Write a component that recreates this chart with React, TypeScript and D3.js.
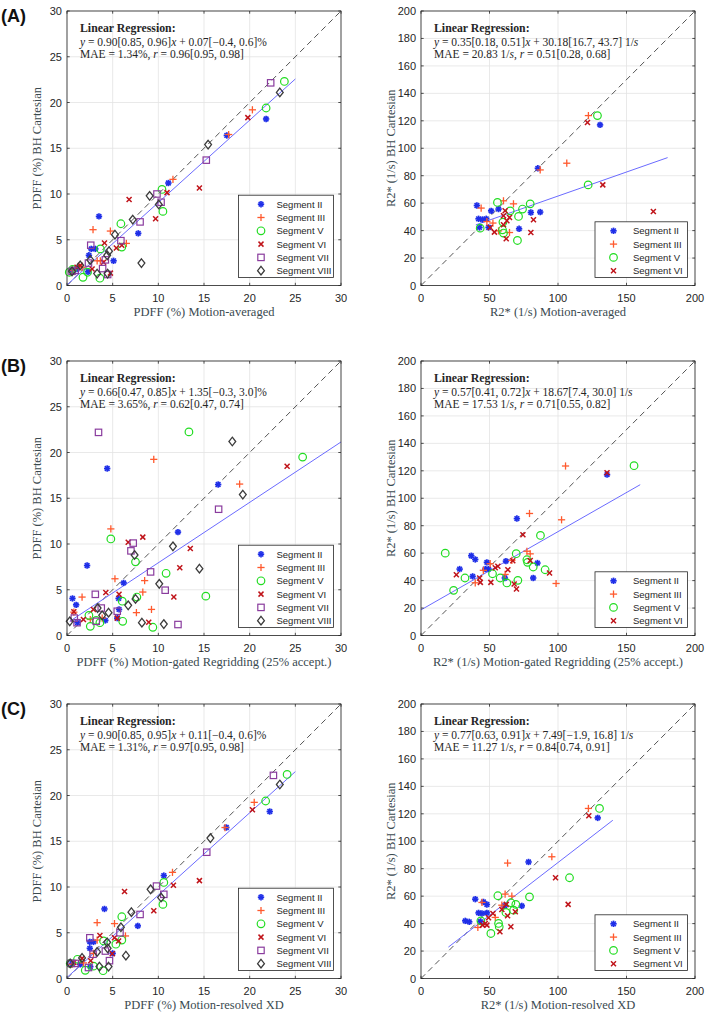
import React from 'react';
import * as d3 from 'd3';

type Pt = [number, number];

const segmentNames = ['Segment II', 'Segment III', 'Segment V', 'Segment VI', 'Segment VII', 'Segment VIII'];
const segmentMarkers = ['asterisk', 'plus', 'circle', 'cross', 'square', 'diamond'];
const segmentColors = ['#1f2fe8', '#ff5a2e', '#22dd22', '#c0141a', '#8a3c9e', '#3c3c3c'];

// (A) PDFF motion-averaged vs BH Cartesian
const avgPdffII: Pt[] = [[3.5, 7.55], [2.65, 4.0], [3.1, 4.0], [2.4, 3.3], [5.1, 2.7], [7.8, 5.7], [11.1, 11.2], [17.5, 16.4], [21.8, 18.2], [2.3, 1.5], [1.1, 1.8], [0.45, 1.65]];
const avgPdffIII: Pt[] = [[2.85, 6.1], [4.75, 5.95], [6.5, 4.6], [3.3, 2.7], [3.65, 2.7], [11.6, 11.6], [17.7, 16.5], [20.3, 19.2], [0.55, 1.65], [1.65, 2.0]];
const avgPdffV: Pt[] = [[23.8, 22.3], [21.8, 19.4], [10.4, 10.5], [10.5, 8.1], [5.9, 6.75], [6.0, 4.2], [3.65, 4.0], [3.6, 0.8], [1.75, 0.9], [2.25, 1.45], [0.25, 1.45], [0.6, 1.75]];
const avgPdffVI: Pt[] = [[6.8, 9.4], [9.7, 7.3], [10.95, 10.15], [14.5, 10.65], [19.8, 18.35], [4.1, 4.65], [5.4, 4.1], [6.0, 4.4], [2.75, 1.8], [4.0, 2.55], [4.75, 1.35], [1.1, 2.0], [1.45, 2.2]];
const avgPdffVII: Pt[] = [[22.3, 22.15], [15.25, 13.7], [10.3, 9.1], [9.85, 10.0], [8.0, 6.95], [5.9, 4.9], [2.6, 4.4], [4.2, 2.8], [3.9, 1.85], [4.45, 1.2], [2.35, 2.45], [0.9, 1.65], [0.55, 1.55]];
const avgPdffVIII: Pt[] = [[23.3, 21.1], [15.45, 15.4], [9.05, 9.8], [10.05, 8.85], [7.2, 7.2], [5.25, 5.55], [4.6, 3.75], [8.15, 2.45], [4.4, 3.3], [2.55, 2.8], [1.45, 2.2], [3.3, 1.3], [4.45, 1.3], [0.55, 1.55]];

// (A) R2* motion-averaged vs BH Cartesian
const avgR2II: Pt[] = [[40.8, 58.3], [51.2, 54.4], [56.6, 55.7], [42, 48.6], [44.9, 48.1], [47.6, 48.6], [42.7, 42.3], [49.3, 42.3], [71.6, 41.3], [80.2, 53.2], [87, 53.5], [85.3, 85.4], [130.7, 117]];
const avgR2III: Pt[] = [[43.9, 56.4], [60.2, 61.7], [67.5, 59.5], [52.5, 45.5], [48.1, 46.6], [64.6, 38.6], [122.2, 123.8], [106.4, 89.1], [87, 84.2], [56.6, 39.8]];
const avgR2V: Pt[] = [[128.8, 123.8], [122, 73.3], [55.8, 60.5], [79.7, 59.5], [74.1, 55.7], [65.1, 54.4], [71.2, 50.3], [59.8, 46.2], [59.5, 40.6], [60.2, 38.2], [70.4, 32.8], [43.2, 41.8]];
const avgR2VI: Pt[] = [[169.6, 53.9], [132.7, 73.3], [121.5, 118.7], [61.4, 54.4], [60.2, 50.8], [82.1, 47.9], [80.2, 38.6], [62.2, 34], [53.6, 38.9], [50.5, 42.3], [60.2, 44.2], [62.7, 47.2], [64.6, 49.6]];

// (B) PDFF motion-gated regridding vs BH Cartesian
const gatedPdffII: Pt[] = [[4.4, 18.25], [2.2, 7.65], [12.15, 11.3], [16.55, 16.5], [6.2, 5.75], [0.6, 4.05], [1.0, 3.35], [5.65, 4.05], [5.7, 2.85], [5.5, 1.9], [4.2, 1.65], [1.15, 1.4]];
const gatedPdffIII: Pt[] = [[9.5, 19.25], [4.8, 11.65], [18.9, 16.55], [5.25, 6.2], [8.5, 6.0], [8.3, 4.75], [7.6, 2.5], [9.25, 2.85], [1.65, 4.2], [0.75, 2.55], [2.55, 1.75], [3.85, 1.9]];
const gatedPdffV: Pt[] = [[13.35, 22.25], [25.8, 19.5], [4.8, 10.55], [7.5, 8.05], [10.85, 6.8], [15.2, 4.3], [6.05, 3.75], [7.65, 4.2], [2.4, 2.2], [2.55, 1.0], [3.2, 1.65], [3.6, 1.4], [6.1, 1.55], [9.4, 0.9]];
const gatedPdffVI: Pt[] = [[24.1, 18.5], [6.7, 10.2], [8.3, 10.75], [13.5, 9.5], [12.35, 7.4], [11.7, 4.2], [4.25, 4.7], [5.7, 4.5], [2.9, 2.85], [1.8, 1.75], [0.75, 2.6], [8.95, 1.45], [5.5, 1.9]];
const gatedPdffVII: Pt[] = [[3.45, 22.2], [16.6, 13.8], [7.25, 10.1], [7.0, 9.25], [9.15, 6.95], [10.75, 4.95], [3.1, 4.5], [3.75, 3.0], [5.5, 2.65], [12.15, 1.2], [1.1, 1.4], [0.8, 1.9], [3.2, 1.55]];
const gatedPdffVIII: Pt[] = [[18.1, 21.2], [19.25, 15.4], [11.6, 9.75], [14.5, 7.3], [10.1, 5.65], [7.4, 8.8], [7.5, 4.0], [6.7, 3.3], [3.35, 3.0], [4.55, 2.5], [3.85, 2.2], [8.2, 1.4], [10.6, 1.25], [0.3, 1.55]];

// (B) R2* motion-gated regridding vs BH Cartesian
const gatedR2II: Pt[] = [[28.2, 48.4], [36.7, 58.1], [39.6, 55.4], [37.7, 43.1], [48.1, 53.3], [46.9, 48.4], [49.3, 48.4], [62, 54.2], [70, 85.2], [85, 52.8], [81.9, 41.9], [61.2, 41.9], [135.8, 117.2]];
const gatedR2III: Pt[] = [[105.5, 123.5], [79.2, 88.9], [102.6, 84.3], [77.3, 61.4], [79.7, 59.5], [98.6, 37.9], [66.3, 54.7], [61.4, 44.5], [39.6, 38.4], [50.5, 52.3], [45.5, 47.5]];
const gatedR2V: Pt[] = [[17.7, 60], [23.8, 32.9], [32.1, 41.9], [52.2, 45], [57.8, 41.9], [62.7, 38.3], [69.5, 59.6], [70.7, 40.2], [77.3, 55.2], [77.8, 53.3], [81.9, 49.9], [87.2, 72.9], [90.6, 47.9], [155.5, 123.7]];
const gatedR2VI: Pt[] = [[25.8, 44.3], [42.8, 41.9], [43.3, 38.7], [51, 38.7], [54.2, 49.4], [56.1, 50.4], [63.4, 47.9], [67, 54.5], [74.4, 73.4], [68, 37.5], [69.7, 33.9], [79.7, 54.7], [93.8, 45.5], [135.8, 118.6]];

// (C) PDFF motion-resolved XD vs BH Cartesian
const xdPdffII: Pt[] = [[4.1, 7.6], [2.5, 4.0], [2.9, 4.0], [2.5, 3.3], [5.0, 2.75], [7.75, 5.75], [10.6, 11.25], [17.45, 16.5], [22.2, 18.25], [2.55, 1.3], [1.45, 1.55], [0.55, 1.65]];
const xdPdffIII: Pt[] = [[3.3, 6.1], [5.2, 6.0], [6.4, 4.65], [3.3, 4.2], [11.55, 11.6], [17.3, 16.5], [20.5, 19.25], [2.9, 2.75], [0.55, 1.55], [1.8, 1.7]];
const xdPdffV: Pt[] = [[24.1, 22.3], [21.75, 19.4], [10.6, 10.5], [10.5, 8.1], [6.0, 6.75], [6.0, 4.2], [5.35, 3.75], [4.0, 4.1], [3.95, 0.85], [2.0, 0.9], [1.15, 2.1], [0.35, 1.65], [2.9, 1.35]];
const xdPdffVI: Pt[] = [[6.3, 9.5], [9.5, 7.4], [11.65, 10.2], [14.5, 10.7], [20.3, 18.45], [3.6, 4.7], [5.2, 4.45], [5.65, 4.1], [4.95, 2.7], [2.6, 1.95], [1.65, 2.2], [0.75, 1.75]];
const xdPdffVII: Pt[] = [[22.6, 22.2], [15.3, 13.8], [10.6, 9.2], [9.8, 10.1], [8.0, 7.0], [5.8, 5.0], [2.5, 4.45], [4.2, 3.0], [4.65, 1.95], [2.35, 1.2], [2.85, 2.65], [0.9, 1.65], [0.45, 1.65]];
const xdPdffVIII: Pt[] = [[23.3, 21.2], [15.7, 15.35], [9.15, 9.75], [10.3, 8.85], [7.05, 7.25], [5.9, 5.6], [4.4, 3.95], [4.45, 3.3], [6.45, 2.5], [3.3, 2.9], [1.65, 2.25], [3.55, 1.3], [4.55, 1.3], [0.35, 1.65]];

// (C) R2* motion-resolved XD vs BH Cartesian
const xdR2II: Pt[] = [[39.6, 57.8], [45.6, 55.8], [48.1, 53.9], [42, 47.8], [44.5, 47.4], [48.1, 47.8], [32.3, 42], [35.2, 41.3], [43.3, 41.4], [61, 53], [73.6, 52.9], [78.5, 84.9], [129, 117]];
const xdR2III: Pt[] = [[122.2, 123.9], [95.5, 88.7], [63.2, 84.1], [61.4, 61.5], [66.3, 60], [44.5, 55.4], [41.5, 37.2], [54.2, 44.5], [59, 53.4]];
const xdR2V: Pt[] = [[130.3, 123.9], [108.4, 73.4], [56.1, 60.3], [79.2, 59.5], [65.6, 55.2], [69.2, 54], [62, 48.1], [67.6, 49.8], [56.6, 40.1], [57.1, 37.7], [51, 32.8], [43.7, 42]];
const xdR2VI: Pt[] = [[107.4, 54], [98.2, 73.4], [122.5, 118.6], [65.6, 37.7], [57.6, 34], [52.5, 47.4], [59, 50.3], [62.2, 54], [63.2, 45.7], [68.8, 48.6], [49.3, 44.2], [46.9, 40.1], [44.9, 38.9], [48.1, 38.9]];

const panelLetters = ['(A)', '(B)', '(C)'];
const xLabels = [
  'PDFF (%) Motion-averaged', 'R2* (1/s) Motion-averaged',
  'PDFF (%) Motion-gated Regridding (25% accept.)', 'R2* (1/s) Motion-gated Regridding (25% accept.)',
  'PDFF (%) Motion-resolved XD', 'R2* (1/s) Motion-resolved XD',
];
const yLabels = ['PDFF (%) BH Cartesian', 'R2* (1/s) BH Cartesian'];
const eqLines = [
  '_y_ = 0.90[0.85, 0.96]_x_ + 0.07[\u22120.4, 0.6]%',
  '_y_ = 0.35[0.18, 0.51]_x_ + 30.18[16.7, 43.7] 1/_s_',
  '_y_ = 0.66[0.47, 0.85]_x_ + 1.35[\u22120.3, 3.0]%',
  '_y_ = 0.57[0.41, 0.72]_x_ + 18.67[7.4, 30.0] 1/_s_',
  '_y_ = 0.90[0.85, 0.95]_x_ + 0.11[\u22120.4, 0.6]%',
  '_y_ = 0.77[0.63, 0.91]_x_ + 7.49[\u22121.9, 16.8] 1/_s_',
];
const maeLines = [
  'MAE = 1.34%, _r_ = 0.96[0.95, 0.98]',
  'MAE = 20.83 1/_s_, _r_ = 0.51[0.28, 0.68]',
  'MAE = 3.65%, _r_ = 0.62[0.47, 0.74]',
  'MAE = 17.53 1/_s_, _r_ = 0.71[0.55, 0.82]',
  'MAE = 1.31%, _r_ = 0.97[0.95, 0.98]',
  'MAE = 11.27 1/_s_, _r_ = 0.84[0.74, 0.91]',
];
const fitSlopes = [0.90, 0.35, 0.66, 0.57, 0.90, 0.77];
const fitIntercepts = [0.07, 30.18, 1.35, 18.67, 0.11, 7.49];
const fitRanges: Pt[] = [[0, 25], [40, 180], [0.3, 30], [0, 160], [0, 25], [20, 140]];

const panelSeries: Pt[][][] = [
  [avgPdffII, avgPdffIII, avgPdffV, avgPdffVI, avgPdffVII, avgPdffVIII],
  [avgR2II, avgR2III, avgR2V, avgR2VI],
  [gatedPdffII, gatedPdffIII, gatedPdffV, gatedPdffVI, gatedPdffVII, gatedPdffVIII],
  [gatedR2II, gatedR2III, gatedR2V, gatedR2VI],
  [xdPdffII, xdPdffIII, xdPdffV, xdPdffVI, xdPdffVII, xdPdffVIII],
  [xdR2II, xdR2III, xdR2V, xdR2VI],
];

const SERIF = '"Liberation Serif", "Times New Roman", serif';
const SANS = '"Liberation Sans", Arial, sans-serif';
const AXIS = '#262626';
const LABEL = '#3a4a50';

const Marker = ({ kind, x, y, color }: { kind: string; x: number; y: number; color: string }) => {
  if (kind === 'asterisk') {
    const r = 3.2, d = r * 0.72;
    return (
      <g stroke={color} strokeWidth={1.7}>
        <line x1={x - r} y1={y} x2={x + r} y2={y} />
        <line x1={x} y1={y - r} x2={x} y2={y + r} />
        <line x1={x - d} y1={y - d} x2={x + d} y2={y + d} />
        <line x1={x - d} y1={y + d} x2={x + d} y2={y - d} />
      </g>
    );
  }
  if (kind === 'plus') {
    const r = 3.6;
    return (
      <g stroke={color} strokeWidth={1.3}>
        <line x1={x - r} y1={y} x2={x + r} y2={y} />
        <line x1={x} y1={y - r} x2={x} y2={y + r} />
      </g>
    );
  }
  if (kind === 'cross') {
    const r = 2.5;
    return (
      <g stroke={color} strokeWidth={1.5}>
        <line x1={x - r} y1={y - r} x2={x + r} y2={y + r} />
        <line x1={x - r} y1={y + r} x2={x + r} y2={y - r} />
      </g>
    );
  }
  if (kind === 'circle') return <circle cx={x} cy={y} r={3.8} fill="none" stroke={color} strokeWidth={1.2} />;
  if (kind === 'square') return <rect x={x - 3.2} y={y - 3.2} width={6.4} height={6.4} fill="none" stroke={color} strokeWidth={1.2} />;
  return <path d={`M${x},${y - 4.3}L${x + 3.4},${y}L${x},${y + 4.3}L${x - 3.4},${y}Z`} fill="none" stroke={color} strokeWidth={1.3} />;
};

const MathText = ({ x, y, text }: { x: number; y: number; text: string }) => (
  <text x={x} y={y} fontFamily={SERIF} fontSize={11.5} fill={AXIS}>
    {text.split('_').map((s, i) => (
      <tspan key={i} fontStyle={i % 2 ? 'italic' : 'normal'}>{s}</tspan>
    ))}
  </text>
);

const Panel = ({ idx, x0, y0 }: { idx: number; x0: number; y0: number }) => {
  const isPdff = idx % 2 === 0;
  const w = 274, h = 274.5;
  const xMax = isPdff ? 30 : 200;
  const yMax = isPdff ? 30 : 200;
  const x = d3.scaleLinear().domain([0, xMax]).range([x0, x0 + w]);
  const y = d3.scaleLinear().domain([0, yMax]).range([y0 + h, y0]);
  const xTicks = d3.range(0, xMax + 0.1, isPdff ? 5 : 50);
  const yTicks = d3.range(0, yMax + 0.1, isPdff ? 5 : 20);
  const series = panelSeries[idx];
  const [f0, f1] = fitRanges[idx];
  const fit = (v: number) => fitSlopes[idx] * v + fitIntercepts[idx];
  const line = d3.line<Pt>().x(d => x(d[0])).y(d => y(d[1]));

  const n = series.length;
  const legW = isPdff ? 95 : 92.5;
  const legH = n * 13.3 + 2.5;
  const legX = x0 + w - 7.5 - legW;
  const legY = y0 + h - 8 - legH;
  const mOff = isPdff ? 22.5 : 18.5;

  return (
    <g>
      {xTicks.map(t => (
        <line key={'gx' + t} x1={x(t)} x2={x(t)} y1={y0} y2={y0 + h} stroke="#e3e3e3" strokeWidth={0.8} />
      ))}
      {yTicks.map(t => (
        <line key={'gy' + t} x1={x0} x2={x0 + w} y1={y(t)} y2={y(t)} stroke="#e3e3e3" strokeWidth={0.8} />
      ))}
      <path d={line([[0, 0], [xMax, yMax]]) || ''} stroke="#555" strokeWidth={1} strokeDasharray="6,4" fill="none" />
      <path d={line([[f0, fit(f0)], [f1, fit(f1)]]) || ''} stroke="#6b6bff" strokeWidth={1} fill="none" />
      {series.map((pts, s) =>
        pts.map((p, i) => (
          <Marker key={s + '-' + i} kind={segmentMarkers[s]} x={x(p[0])} y={y(p[1])} color={segmentColors[s]} />
        ))
      )}
      <rect x={x0} y={y0} width={w} height={h} fill="none" stroke={AXIS} strokeWidth={0.8} />
      {xTicks.map(t => (
        <g key={'xt' + t}>
          <line x1={x(t)} x2={x(t)} y1={y0 + h} y2={y0 + h - 2.7} stroke={AXIS} strokeWidth={0.8} />
          <line x1={x(t)} x2={x(t)} y1={y0} y2={y0 + 2.7} stroke={AXIS} strokeWidth={0.8} />
          <text x={x(t)} y={y0 + h + 16} textAnchor="middle" fontFamily={SANS} fontSize={11} fill={AXIS}>{t}</text>
        </g>
      ))}
      {yTicks.map(t => (
        <g key={'yt' + t}>
          <line x1={x0} x2={x0 + 2.7} y1={y(t)} y2={y(t)} stroke={AXIS} strokeWidth={0.8} />
          <line x1={x0 + w} x2={x0 + w - 2.7} y1={y(t)} y2={y(t)} stroke={AXIS} strokeWidth={0.8} />
          <text x={x0 - 5} y={y(t) + 4} textAnchor="end" fontFamily={SANS} fontSize={11} fill={AXIS}>{t}</text>
        </g>
      ))}
      <text x={x0 + 13} y={y0 + 20.5} fontFamily={SERIF} fontSize={11.8} fontWeight="bold" fill={AXIS}>Linear Regression:</text>
      <MathText x={x0 + 13} y={y0 + 34.5} text={eqLines[idx]} />
      <MathText x={x0 + 13} y={y0 + 47} text={maeLines[idx]} />
      <rect x={legX} y={legY} width={legW} height={legH} fill="#fff" stroke={AXIS} strokeWidth={0.8} />
      {series.map((_, s) => {
        const cy = legY + 9 + s * 13.3;
        return (
          <g key={'lg' + s}>
            <Marker kind={segmentMarkers[s]} x={legX + mOff} y={cy} color={segmentColors[s]} />
            <text x={legX + 38} y={cy + 3.5} fontFamily={SANS} fontSize={9.5} fill={AXIS}>{segmentNames[s]}</text>
          </g>
        );
      })}
      <text x={x0 + w / 2} y={y0 + h + 30.5} textAnchor="middle" fontFamily={SERIF} fontSize={12.5} fill={LABEL}>{xLabels[idx]}</text>
      <text transform={`translate(${x0 - 26},${y0 + h / 2}) rotate(-90)`} textAnchor="middle" fontFamily={SERIF} fontSize={12.5} fill={LABEL}>
        {yLabels[idx % 2]}
      </text>
    </g>
  );
};

const rowTops = [11, 361, 704];
const colLefts = [67, 421];

export default function App() {
  return (
    <svg width={709} height={1014} style={{ position: 'absolute', left: 0, top: 0, background: '#fff' }}>
      {rowTops.map((top, r) => (
        <g key={r}>
          <text x={1} y={top + 10.5} fontFamily={SANS} fontWeight="bold" fontSize={18} fill="#111">{panelLetters[r]}</text>
          {colLefts.map((left, c) => (
            <Panel key={c} idx={r * 2 + c} x0={left} y0={top} />
          ))}
        </g>
      ))}
    </svg>
  );
}
